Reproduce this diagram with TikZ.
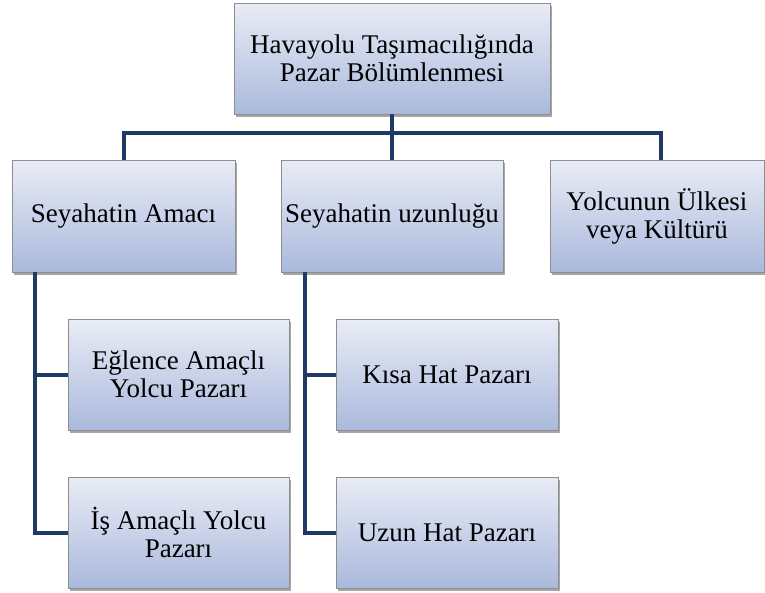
\documentclass[tikz,border=0pt]{standalone}
\usepackage{fontspec}
\setmainfont{Liberation Serif}
\usetikzlibrary{shadows}
\definecolor{boxtop}{HTML}{E9ECF6}
\definecolor{boxbot}{HTML}{AAB9DC}
\definecolor{boxedge}{HTML}{8E8E8E}
\definecolor{linkc}{HTML}{1F3A64}
\tikzset{
  box/.style={draw=boxedge, line width=0.8pt, top color=boxtop, bottom color=boxbot,
    align=center, inner sep=2pt, font=\fontsize{27}{28}\selectfont,
    drop shadow={shadow xshift=2pt, shadow yshift=-3pt, fill=black, opacity=0.35}},
  link/.style={draw=linkc, line width=4pt, line join=miter}
}
\begin{document}
\begin{tikzpicture}[x=1pt,y=-1pt]
\useasboundingbox (0,0) rectangle (765,592);
\fill[white] (0,0) rectangle (765,592);
\coordinate (bus) at (392,133);
\coordinate (lv) at (35,0);
\coordinate (mv) at (305,0);
\node[box, minimum width=316, minimum height=111] (top) at (392,58.5) {Havayolu Taşımacılığında\\Pazar Bölümlenmesi};
\node[box, minimum width=223, minimum height=112] (a) at (123.5,216) {Seyahatin Amacı};
\node[box, minimum width=222, minimum height=112] (b) at (392,216) {Seyahatin uzunluğu};
\node[box, minimum width=214, minimum height=112] (c) at (657,216) {Yolcunun Ülkesi\\veya Kültürü};
\node[box, minimum width=221, minimum height=111] (a1) at (178.5,374.5) {Eğlence Amaçlı\\Yolcu Pazarı};
\node[box, minimum width=221, minimum height=111] (a2) at (178.5,532.5) {İş Amaçlı Yolcu\\Pazarı};
\node[box, minimum width=222, minimum height=111] (b1) at (447,374.5) {Kısa Hat Pazarı};
\node[box, minimum width=222, minimum height=111] (b2) at (447,532.5) {Uzun Hat Pazarı};
\coordinate (cn) at ([xshift=4pt]c.north);
\path[link] (top.south) -- (bus);
\path[link] (a.north) |- (bus) -| (cn);
\path[link] (bus) -- (b.north);
\path[link] (a.south -| lv) |- (a1.west);
\path[link] (a.south -| lv) |- (a2.west);
\path[link] (b.south -| mv) |- (b1.west);
\path[link] (b.south -| mv) |- (b2.west);
\end{tikzpicture}
\end{document}
